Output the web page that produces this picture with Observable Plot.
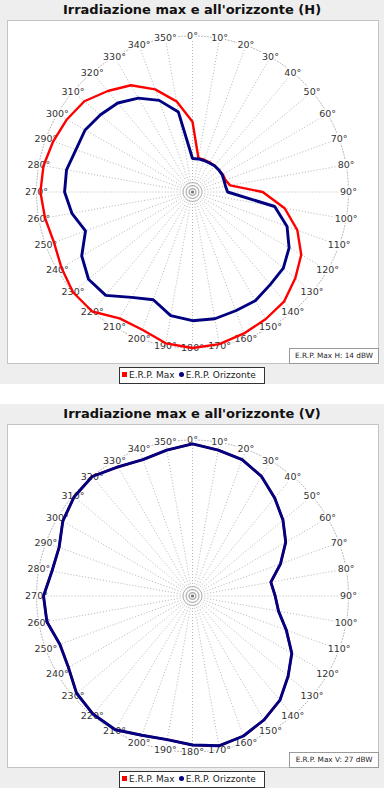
<!DOCTYPE html>
<html><head><meta charset="utf-8">
<script src="https://cdn.jsdelivr.net/npm/d3@7"></script>
<script src="https://cdn.jsdelivr.net/npm/@observablehq/plot@0.6"></script>
<style>
body{margin:0;background:#fff;width:384px;height:800px;position:relative;font-family:"DejaVu Sans",sans-serif;overflow:hidden;}
.block{position:absolute;left:0;width:384px;height:384px;background:#eeeeee;}
.title{position:absolute;left:0;width:384px;top:1px;text-align:center;font-weight:bold;font-size:13px;color:#111;line-height:18px;}
.panel{position:absolute;left:7px;top:20px;width:372px;height:344px;box-sizing:border-box;border:1px solid #c4c4c4;background:#fff;}
.panel svg{display:block;}
.info{position:absolute;left:289px;top:348px;width:90px;height:16px;box-sizing:border-box;border:1px solid #999;background:#fff;font-size:7.3px;line-height:14px;text-align:center;color:#222;white-space:nowrap;}
.legend{position:absolute;left:119px;top:367px;width:146px;height:17px;box-sizing:border-box;border:1px solid #333;background:#fff;font-size:9px;line-height:15px;white-space:nowrap;padding-left:2px;color:#222;}
.sq{display:inline-block;width:5px;height:5px;background:#ff0000;margin-right:2px;vertical-align:1px;}
.ci{display:inline-block;width:5px;height:5px;border-radius:50%;background:#000080;margin:0 2px 0 4px;vertical-align:1px;}
</style>
</head><body>
<div class="block" id="bH" style="top:0px">
  <div class="title">Irradiazione max e all'orizzonte (H)</div>
  <div class="panel" id="pH"></div>
  <div class="info" id="iH"></div>
  <div class="legend"><span class="sq"></span>E.R.P. Max<span class="ci"></span>E.R.P. Orizzonte</div>
</div>
<div class="block" id="bV" style="top:404px">
  <div class="title">Irradiazione max e all'orizzonte (V)</div>
  <div class="panel" id="pV"></div>
  <div class="info" id="iV"></div>
  <div class="legend"><span class="sq"></span>E.R.P. Max<span class="ci"></span>E.R.P. Orizzonte</div>
</div>
<script>
// Directions (degrees) — also the angular tick labels
const angles = [0,10,20,30,40,50,60,70,80,90,100,110,120,130,140,150,160,170,
                180,190,200,210,220,230,240,250,260,270,280,290,300,310,320,330,340,350];

// Horizontal pattern (relative field, 1 = outer ring)
const hMax = [0.45,0.22,0.22,0.22,0.22,0.22,0.225,0.225,0.245,0.45,0.60,0.715,
              0.805,0.86,0.915,0.94,0.965,0.99,1.0,0.985,0.94,0.935,1.0,1.0,
              0.97,0.945,0.96,0.975,0.97,0.95,0.93,0.905,0.845,0.79,0.70,0.59];
const hOriz = [0.215,0.215,0.215,0.215,0.22,0.22,0.22,0.215,0.215,0.225,0.535,0.645,
               0.715,0.76,0.775,0.805,0.81,0.825,0.825,0.805,0.735,0.78,0.865,0.87,
               0.82,0.73,0.785,0.82,0.82,0.795,0.795,0.77,0.745,0.695,0.625,0.52];

// Vertical pattern
const vOriz = [0.975,0.95,0.93,0.885,0.82,0.757,0.69,0.60,0.51,0.53,0.56,0.64,
               0.735,0.80,0.872,0.917,0.955,0.975,0.955,0.935,0.95,0.99,0.99,0.97,
               0.918,0.905,0.948,0.955,0.915,0.91,0.96,0.99,1.0,0.955,0.93,0.95];
const vMax = vOriz.slice(); // hidden under the Orizzonte trace

// Small grid rings around the centre
const ringValues = [0.02, 0.04, 0.06];

const infoH = "E.R.P. Max H: 14 dBW";
const infoV = "E.R.P. Max V: 27 dBW";

const RAD = Math.PI / 180;
const R = 156, CX = 184, CY = 170.5;
const px = d => d.v * Math.sin(d.a * RAD);
const py = d => d.v * Math.cos(d.a * RAD);

function polar(maxVals, orizVals) {
  const maxData = angles.map((a, i) => ({a, v: maxVals[i]}));
  const orizData = angles.map((a, i) => ({a, v: orizVals[i]}));
  const ringStep = d3.range(0, 362, 2);
  const outer = ringStep.map(a => ({a, v: 1, k: "o"}));
  const inner = ringValues.flatMap(v => ringStep.map(a => ({a, v, k: "r" + v})));
  const gridStyle = {stroke: "#b4b4b4", strokeWidth: 1, strokeDasharray: "1,2"};
  return Plot.plot({
    width: 370, height: 342, margin: 0,
    x: {domain: [-1, 1], range: [CX - R, CX + R], axis: null},
    y: {domain: [-1, 1], range: [CY + R, CY - R], axis: null},
    style: {background: "white", fontFamily: "DejaVu Sans, sans-serif"},
    marks: [
      Plot.link(angles, {x1: 0, y1: 0, x2: a => Math.sin(a * RAD), y2: a => Math.cos(a * RAD), ...gridStyle}),
      Plot.line(outer, {x: px, y: py, z: "k", ...gridStyle}),
      Plot.line(inner, {x: px, y: py, z: "k", stroke: "#a0a0a0", strokeWidth: 0.8, strokeDasharray: "1,1"}),
      Plot.dot([{a: 0, v: 0}], {x: px, y: py, r: 1.6, fill: "#777"}),
      Plot.text(angles.map(a => ({a, v: 1})), {x: px, y: py, text: d => d.a + "°",
        fill: "#333", stroke: "white", strokeWidth: 3, fontSize: 9.5}),
      Plot.line(maxData, {x: px, y: py, curve: "linear-closed", stroke: "#ff0000", strokeWidth: 2.4, strokeLinejoin: "miter"}),
      Plot.line(orizData, {x: px, y: py, curve: "linear-closed", stroke: "#000080", strokeWidth: 2.9, strokeLinejoin: "miter"})
    ]
  });
}

document.getElementById("pH").append(polar(hMax, hOriz));
document.getElementById("pV").append(polar(vMax, vOriz));
document.getElementById("iH").textContent = infoH;
document.getElementById("iV").textContent = infoV;
</script>
</body></html>
